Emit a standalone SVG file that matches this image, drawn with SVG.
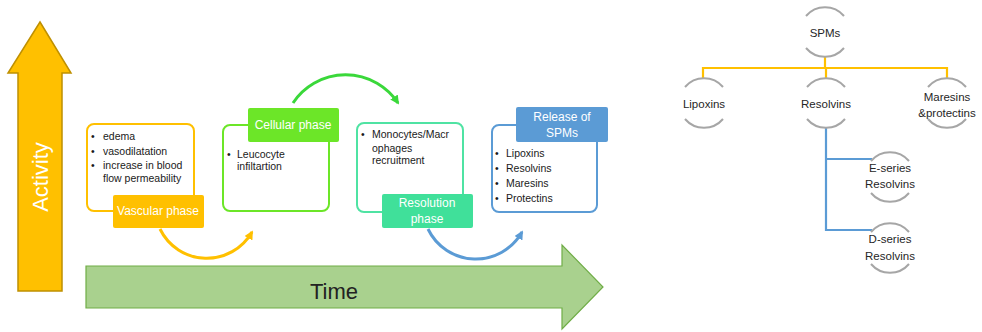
<svg xmlns="http://www.w3.org/2000/svg" width="982" height="332" viewBox="0 0 982 332">
<style>
text{font-family:"Liberation Sans",Arial,sans-serif}
.b{font-size:10.5px;fill:#1a1a1a}
.lbl{font-size:12px;fill:#fff;text-anchor:middle}
.t{font-size:11.5px;fill:#262626;text-anchor:middle}
.arcn{fill:none;stroke:#a6a6a6;stroke-width:2}
.box{fill:#fff;stroke-width:2}
</style>
<defs>
<marker id="mY" viewBox="0 0 10 10" refX="8" refY="5" markerWidth="3" markerHeight="3" orient="auto"><path d="M0,0 L10,5 L0,10 z" fill="#FFC000"/></marker>
<marker id="mG" viewBox="0 0 10 10" refX="8" refY="5" markerWidth="3" markerHeight="3" orient="auto"><path d="M0,0 L10,5 L0,10 z" fill="#3AD83A"/></marker>
<marker id="mB" viewBox="0 0 10 10" refX="8" refY="5" markerWidth="3" markerHeight="3" orient="auto"><path d="M0,0 L10,5 L0,10 z" fill="#5B9BD5"/></marker>
</defs>
<rect width="982" height="332" fill="#fff"/>

<g id="activity-arrow">
<polygon points="40,22 71,73 62,73 62,291 18,291 18,73 8,73" fill="#FFC000" stroke="#BF9000" stroke-width="1.5"/>
<text x="40" y="177" transform="rotate(-90 40 177)" font-size="22" fill="#fff" text-anchor="middle" dominant-baseline="central">Activity</text>
</g>

<g id="time-arrow">
<polygon points="86,266 562,266 562,245 603,287 562,329 562,308 86,308" fill="#A9D18E" stroke="#70AD47" stroke-width="1.2"/>
<text x="334" y="299" font-size="22" fill="#222" text-anchor="middle">Time</text>
</g>

<g id="connectors" fill="none" stroke-width="3">
<path d="M160,229 A52,52 0 0 0 252,232" stroke="#FFC000" marker-end="url(#mY)"/>
<path d="M293,103 A63,63 0 0 1 398,103" stroke="#3AD83A" marker-end="url(#mG)"/>
<path d="M428,229 A53,53 0 0 0 522,232" stroke="#5B9BD5" marker-end="url(#mB)"/>
</g>

<g id="vascular-phase">
<rect class="box" x="87" y="124" width="107" height="87" rx="7" stroke="#FFC000"/>
<text class="b" x="91" y="140">•</text><text class="b" x="103" y="140">edema</text>
<text class="b" x="91" y="155">•</text><text class="b" x="103" y="155">vasodilatation</text>
<text class="b" x="91" y="169">•</text><text class="b" x="103" y="169">increase in blood</text>
<text class="b" x="103" y="182">flow permeability</text>
<rect x="113" y="195" width="91" height="33" rx="2" fill="#FFC000"/>
<text class="lbl" x="158" y="215">Vascular phase</text>
</g>

<g id="cellular-phase">
<rect class="box" x="223" y="125" width="106" height="86" rx="7" stroke="#6CE628"/>
<text class="b" x="227" y="158">•</text><text class="b" x="237" y="158">Leucocyte</text>
<text class="b" x="237" y="170">infiltartion</text>
<rect x="248" y="108" width="91" height="34" rx="2" fill="#6CE628"/>
<text class="lbl" x="293" y="129">Cellular phase</text>
</g>

<g id="resolution-phase">
<rect class="box" x="357" y="123" width="106" height="89" rx="7" stroke="#4FE3A3"/>
<text class="b" x="361" y="138">•</text><text class="b" x="372" y="138">Monocytes/Macr</text>
<text class="b" x="372" y="152">ophages</text>
<text class="b" x="372" y="164">recruitment</text>
<rect x="382" y="194" width="91" height="34" rx="2" fill="#40E09A"/>
<text class="lbl" x="427" y="207">Resolution</text>
<text class="lbl" x="427" y="223">phase</text>
</g>

<g id="release-of-spms">
<rect class="box" x="492" y="125" width="105" height="87" rx="7" stroke="#5B9BD5"/>
<text class="b" x="495" y="157">•</text><text class="b" x="506" y="157">Lipoxins</text>
<text class="b" x="495" y="172">•</text><text class="b" x="506" y="172">Resolvins</text>
<text class="b" x="495" y="187">•</text><text class="b" x="506" y="187">Maresins</text>
<text class="b" x="495" y="202">•</text><text class="b" x="506" y="202">Protectins</text>
<rect x="516" y="107" width="92" height="35" rx="2" fill="#5B9BD5"/>
<text class="lbl" x="562" y="121">Release of</text>
<text class="lbl" x="562" y="137">SPMs</text>
</g>

<g id="tree-connectors" fill="none" stroke-width="2.2">
<path d="M825,57 V68 M703,78 V68 H947 V78 M826,68 V78" stroke="#FFC000"/>
<path d="M826,128 V230 H872 M826,159 H872" stroke="#5B9BD5"/>
</g>

<g id="node-spms">
<path class="arcn" d="M806,16 A25,25 0 0 1 844,16 M806,48 A25,25 0 0 0 844,48"/>
<text class="t" x="825" y="37">SPMs</text>
</g>
<g id="node-lipoxins">
<path class="arcn" d="M685,87 A25,25 0 0 1 723,87 M685,119 A25,25 0 0 0 723,119"/>
<text class="t" x="704" y="108">Lipoxins</text>
</g>
<g id="node-resolvins">
<path class="arcn" d="M807,87 A25,25 0 0 1 845,87 M807,119 A25,25 0 0 0 845,119"/>
<text class="t" x="826" y="108">Resolvins</text>
</g>
<g id="node-maresins">
<path class="arcn" d="M928,87 A25,25 0 0 1 966,87 M928,119 A25,25 0 0 0 966,119"/>
<text class="t" x="947" y="101">Maresins</text>
<text class="t" x="947" y="117">&amp;protectins</text>
</g>
<g id="node-e-series">
<path class="arcn" d="M871,161 A25,25 0 0 1 909,161 M871,193 A25,25 0 0 0 909,193"/>
<text class="t" x="890" y="172">E-series</text>
<text class="t" x="890" y="188">Resolvins</text>
</g>
<g id="node-d-series">
<path class="arcn" d="M871,232 A25,25 0 0 1 909,232 M871,264 A25,25 0 0 0 909,264"/>
<text class="t" x="890" y="243">D-series</text>
<text class="t" x="890" y="260">Resolvins</text>
</g>
</svg>
